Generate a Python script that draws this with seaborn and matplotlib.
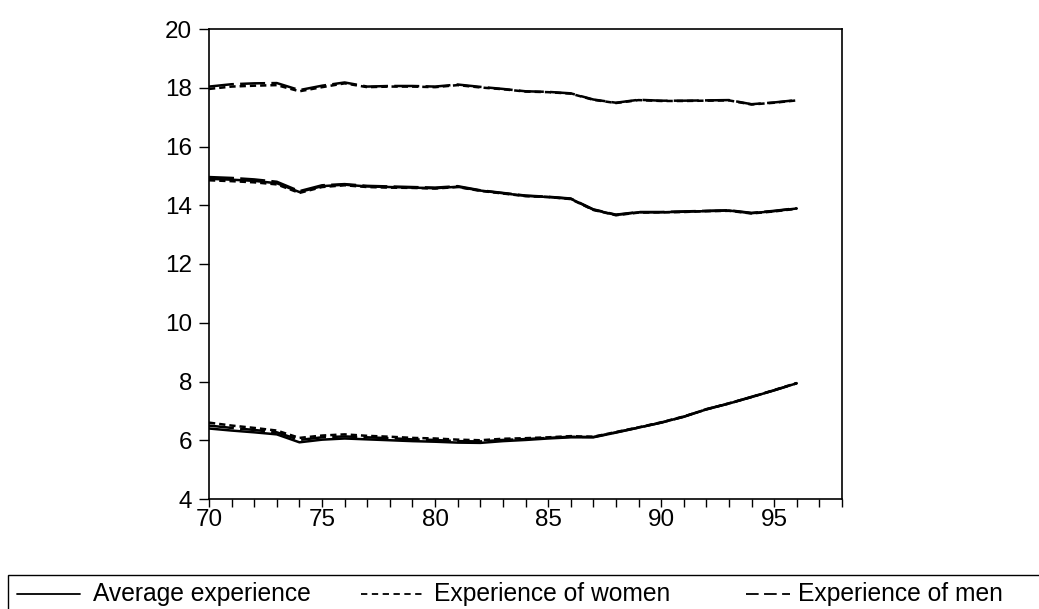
import pandas as pd
import seaborn as sns
import matplotlib
matplotlib.use("Agg")
import matplotlib.pyplot as plt
from matplotlib.lines import Line2D
from matplotlib.patches import Rectangle
from matplotlib.ticker import MultipleLocator

# ── Données ─────────────────────────────────────────────────────
years = list(range(70, 97))

women_top = [17.96, 18.04, 18.07, 18.09, 17.88, 18.02, 18.15, 18.02, 18.04, 18.04, 18.02, 18.09, 18.01, 17.95,
             17.87, 17.85, 17.80, 17.59, 17.48, 17.58, 17.55, 17.55, 17.56, 17.57, 17.43, 17.49, 17.57]
men_top   = [18.04, 18.12, 18.15, 18.16, 17.92, 18.07, 18.18, 18.04, 18.06, 18.06, 18.04, 18.11, 18.03, 17.96,
             17.88, 17.86, 17.81, 17.60, 17.49, 17.59, 17.56, 17.56, 17.57, 17.58, 17.44, 17.50, 17.58]

avg_mid   = [14.90, 14.87, 14.83, 14.75, 14.45, 14.65, 14.70, 14.64, 14.62, 14.60, 14.58, 14.63, 14.50, 14.41,
             14.32, 14.28, 14.22, 13.85, 13.67, 13.76, 13.76, 13.78, 13.80, 13.82, 13.73, 13.80, 13.89]
women_mid = [14.85, 14.82, 14.78, 14.71, 14.42, 14.62, 14.68, 14.62, 14.60, 14.59, 14.57, 14.62, 14.49, 14.40,
             14.31, 14.28, 14.21, 13.84, 13.66, 13.75, 13.76, 13.77, 13.80, 13.81, 13.72, 13.79, 13.88]
men_mid   = [14.96, 14.93, 14.88, 14.80, 14.48, 14.68, 14.72, 14.66, 14.64, 14.62, 14.60, 14.65, 14.51, 14.42,
             14.33, 14.29, 14.23, 13.86, 13.68, 13.77, 13.77, 13.79, 13.81, 13.83, 13.74, 13.81, 13.90]

avg_low   = [6.40, 6.33, 6.27, 6.20, 5.93, 6.02, 6.06, 6.03, 6.00, 5.97, 5.95, 5.92, 5.91, 5.97,
             6.01, 6.06, 6.10, 6.10, 6.26, 6.43, 6.60, 6.80, 7.05, 7.25, 7.47, 7.70, 7.94]
women_low = [6.60, 6.50, 6.42, 6.33, 6.08, 6.16, 6.20, 6.15, 6.12, 6.08, 6.06, 6.02, 6.00, 6.05,
             6.07, 6.10, 6.14, 6.12, 6.28, 6.44, 6.61, 6.81, 7.05, 7.26, 7.47, 7.71, 7.95]
men_low   = [6.50, 6.42, 6.35, 6.27, 6.01, 6.10, 6.13, 6.10, 6.07, 6.03, 6.01, 5.97, 5.96, 6.01,
             6.04, 6.08, 6.12, 6.11, 6.27, 6.43, 6.60, 6.80, 7.06, 7.25, 7.48, 7.70, 7.94]

AVG, WOMEN, MEN = "Average experience", "Experience of women", "Experience of men"
series_by_group = {
    "top": [(WOMEN, women_top), (MEN, men_top)],
    "mid": [(AVG, avg_mid), (WOMEN, women_mid), (MEN, men_mid)],
    "low": [(AVG, avg_low), (WOMEN, women_low), (MEN, men_low)],
}

# ── Style ───────────────────────────────────────────────────────
sns.set_theme(style="white")
plt.rcParams["font.family"] = ["Liberation Sans", "DejaVu Sans"]

DASHES = {AVG: "", WOMEN: (2.5, 1.6), MEN: (10, 2.5)}
LW = 1.8
W, H = 1039, 609

rows = []
for grp, items in series_by_group.items():
    for name, vals in items:
        for yr, v in zip(years, vals):
            rows.append({"year": yr, "value": v, "series": name, "group": grp})
df = pd.DataFrame(rows)

fig = plt.figure(figsize=(W / 100, H / 100), dpi=100)
fig.patch.set_facecolor("white")
ax = fig.add_axes([209 / W, 1 - 499 / H, (842 - 209) / W, (499 - 29) / H])

sns.lineplot(data=df, x="year", y="value", style="series", units="group",
             style_order=[AVG, WOMEN, MEN], estimator=None, color="black",
             dashes=DASHES, lw=LW, legend=False, ax=ax)

ax.set_xlim(70, 98)
ax.set_ylim(4, 20)
ax.xaxis.set_major_locator(MultipleLocator(5))
ax.xaxis.set_minor_locator(MultipleLocator(1))
ax.yaxis.set_major_locator(MultipleLocator(2))
ax.set_xlabel("")
ax.set_ylabel("")
for sp in ax.spines.values():
    sp.set_color("black")
    sp.set_linewidth(1.2)
ax.tick_params(axis="x", which="both", direction="out", length=6, width=1,
               color="black", labelcolor="black", labelsize=17.5, pad=1,
               bottom=True)
ax.tick_params(axis="y", which="major", direction="out", length=7, width=1,
               color="black", labelcolor="black", labelsize=17.5, pad=5,
               left=True)
ax.grid(False)

# ── Légende encadrée (coupée à droite et en bas) ────────────────
fig.add_artist(Rectangle((8 / W, -0.05), 1.1, 0.05 + (H - 574.6) / H,
                         transform=fig.transFigure, fill=False,
                         edgecolor="black", lw=1.0, clip_on=False))
ly = 1 - 594 / H
legend_items = [
    (AVG, 17, 80, 93, ""),
    (WOMEN, 361, 423, 434, (3.5, 2.5)),
    (MEN, 746, 790, 798, (7, 3)),
]
for name, x0, x1, xt, dsh in legend_items:
    ln = Line2D([x0 / W, x1 / W], [ly, ly], transform=fig.transFigure,
                color="black", lw=1.3)
    if dsh:
        ln.set_dashes(dsh)
    fig.add_artist(ln)
    fig.text(xt / W, ly, name, ha="left", va="center", fontsize=17.7,
             color="black")

fig.savefig("out.png", dpi=100)
